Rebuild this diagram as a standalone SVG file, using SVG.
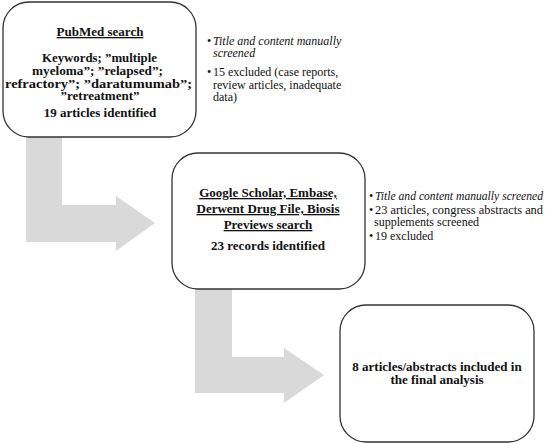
<svg xmlns="http://www.w3.org/2000/svg" width="550" height="444" viewBox="0 0 550 444">
<style>
.box{fill:#fff;stroke:#333;stroke-width:1.3}
.arr{fill:#d9d9d9;stroke:none}
.b{font-family:"Liberation Serif",serif;font-weight:bold;font-size:13px;fill:#111;text-anchor:middle}
.u{text-decoration:underline}
.n{font-family:"Liberation Serif",serif;font-size:12px;fill:#111}
.i{font-style:italic}
</style>
<g id="connectors">
<path class="arr" d="M26,137 H62 V205 H116 V196 L155,223 L116,251 V242 H26 Z"/>
<path class="arr" d="M195,289 H232 V357 H284 V348 L324,375 L284,403 V393 H195 Z"/>
</g>
<g id="node-pubmed">
<rect class="box" x="3" y="2" width="193" height="135" rx="26"/>
<text class="b u" x="100" y="36">PubMed search</text>
<text class="b" x="99.5" y="62" textLength="115" lengthAdjust="spacingAndGlyphs">Keywords; ”multiple</text>
<text class="b" x="97.5" y="75" textLength="131" lengthAdjust="spacingAndGlyphs">myeloma”; ”relapsed”;</text>
<text class="b" x="98.5" y="87.5" textLength="187" lengthAdjust="spacingAndGlyphs">refractory”; ”daratumumab”;</text>
<text class="b" x="100" y="100">”retreatment”</text>
<text class="b" x="100" y="117">19 articles identified</text>
</g>
<g id="note-1">
<text class="n" x="207" y="45">•<tspan class="i" x="213">Title and content manually</tspan></text>
<text class="n i" x="213" y="57">screened</text>
<text class="n" x="207" y="76">•<tspan x="213">15 excluded (case reports,</tspan></text>
<text class="n" x="213" y="89">review articles, inadequate</text>
<text class="n" x="213" y="101">data)</text>
</g>
<g id="node-google">
<rect class="box" x="172" y="153" width="193" height="136" rx="26"/>
<text class="b u" x="268" y="197">Google Scholar, Embase,</text>
<text class="b u" x="268" y="213">Derwent Drug File, Biosis</text>
<text class="b u" x="268" y="229">Previews search</text>
<text class="b" x="268" y="250">23 records identified</text>
</g>
<g id="note-2">
<text class="n" x="369" y="200">•<tspan class="i" x="375" textLength="168" lengthAdjust="spacingAndGlyphs">Title and content manually screened</tspan></text>
<text class="n" x="369" y="214">•<tspan x="375" textLength="168" lengthAdjust="spacingAndGlyphs">23 articles, congress abstracts and</tspan></text>
<text class="n" x="374" y="226">supplements screened</text>
<text class="n" x="369" y="240">•<tspan x="375">19 excluded</tspan></text>
</g>
<g id="node-final">
<rect class="box" x="340" y="305" width="194" height="137" rx="26"/>
<text class="b" x="437" y="371">8 articles/abstracts included in</text>
<text class="b" x="437" y="384">the final analysis</text>
</g>
</svg>
